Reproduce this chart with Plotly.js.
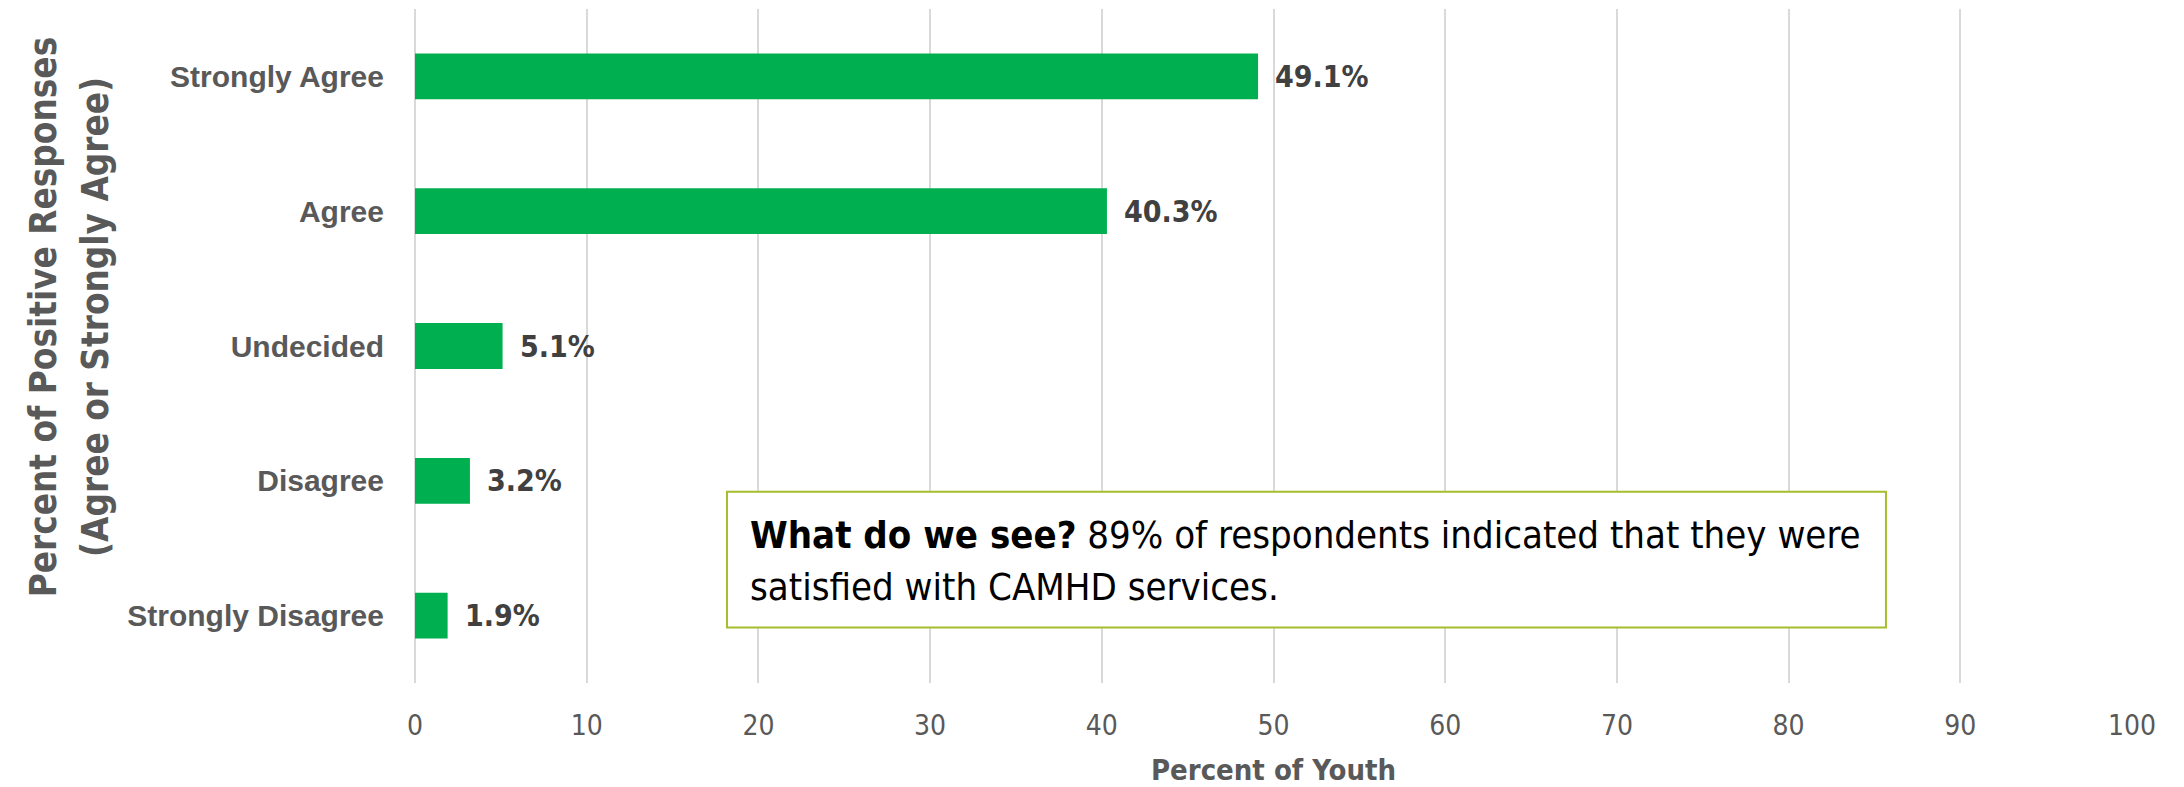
<!DOCTYPE html>
<html>
<head>
<meta charset="utf-8">
<script src="https://cdn.plot.ly/plotly-3.0.1.min.js"></script>
<style>html,body{margin:0;padding:0;background:#fff;}#chart{width:2184px;height:787px;}</style>
</head>
<body>
<div id="chart"></div>
<script>
// ---- data ----
const categories = ['Strongly Agree', 'Agree', 'Undecided', 'Disagree', 'Strongly Disagree'];
const values = [49.1, 40.3, 5.1, 3.2, 1.9];
const valueLabels = ['49.1%', '40.3%', '5.1%', '3.2%', '1.9%'];
const xTickValues = [0, 10, 20, 30, 40, 50, 60, 70, 80, 90, 100];
const yTitleLines = ['Percent of Positive Responses', '(Agree or Strongly Agree)'];
const xTitle = 'Percent of Youth';
const noteLines = ['<b>What do we see?</b> 89% of respondents indicated that they were',
                   'satisfied with CAMHD services.'];

// ---- styling ----
const NARROW = 'Liberation Sans Narrow, Arial Narrow, DejaVu Sans Condensed, sans-serif';
const WIDE = 'Liberation Sans, Arial, sans-serif';
const GRAY = '#595959';

const trace = {
  type: 'bar',
  orientation: 'h',
  y: categories,
  x: values,
  marker: {color: '#00b050'},
  hoverinfo: 'skip'
};

const annotations = [];
values.forEach((v, i) => {
  annotations.push({
    x: v, y: categories[i], xref: 'x', yref: 'y',
    text: valueLabels[i], showarrow: false,
    xanchor: 'left', yanchor: 'middle', xshift: 15,
    font: {family: NARROW, size: 30, color: '#404040', weight: 'bold'}
  });
});
// y-axis title (two lines)
const yTitleX = [-0.2165, -0.1864];
yTitleLines.forEach((t, i) => {
  annotations.push({
    x: yTitleX[i], y: 0.543, xref: 'paper', yref: 'paper',
    text: t, showarrow: false, textangle: -90,
    xanchor: 'center', yanchor: 'middle',
    font: {family: NARROW, size: 36.5, color: GRAY, weight: 'bold'}
  });
});
// note text
const noteY = [0.22, 0.143];
noteLines.forEach((t, i) => {
  annotations.push({
    x: 0.1939, y: noteY[i], xref: 'paper', yref: 'paper',
    text: t, showarrow: false, xanchor: 'left', yanchor: 'middle',
    font: {family: NARROW, size: 38, color: '#000000'}
  });
});

const layout = {
  width: 2184, height: 787,
  margin: {l: 415, r: 52, t: 8.5, b: 103.5},
  paper_bgcolor: '#ffffff', plot_bgcolor: '#ffffff',
  bargap: 0.66,
  showlegend: false,
  xaxis: {
    range: [0, 100], tickvals: xTickValues, ticktext: xTickValues.map(String),
    showgrid: true, gridcolor: '#d9d9d9', gridwidth: 2,
    zeroline: true, zerolinecolor: '#d9d9d9', zerolinewidth: 2,
    showline: false, ticks: '', ticklabelstandoff: 23,
    tickfont: {family: NARROW, size: 28, color: GRAY},
    title: {text: xTitle, standoff: 18, font: {family: NARROW, size: 29, color: GRAY, weight: 'bold'}},
    fixedrange: true
  },
  yaxis: {
    type: 'category', autorange: 'reversed',
    showgrid: false, zeroline: false, showline: false, ticks: '',
    ticklabelstandoff: 30,
    tickfont: {family: WIDE, size: 30, color: GRAY, weight: 'bold'},
    fixedrange: true
  },
  shapes: [{
    type: 'rect', xref: 'paper', yref: 'paper', layer: 'above',
    x0: 0.1817, x1: 0.8567, y0: 0.0822, y1: 0.2837,
    line: {color: '#a6bd2d', width: 2}, fillcolor: '#ffffff'
  }],
  annotations: annotations
};

Plotly.newPlot('chart', [trace], layout, {displayModeBar: false, staticPlot: true});
</script>
</body>
</html>
